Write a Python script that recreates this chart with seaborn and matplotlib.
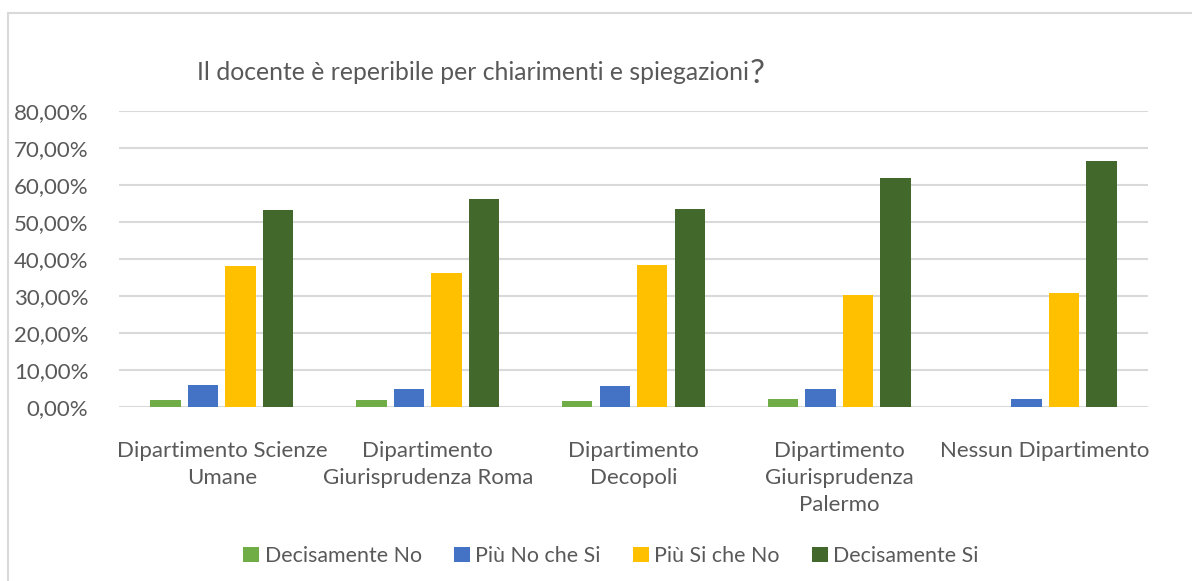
import matplotlib
matplotlib.use("Agg")
import matplotlib.pyplot as plt
from matplotlib.lines import Line2D
from matplotlib.ticker import FuncFormatter
import seaborn as sns
import pandas as pd

categories = ["Dipartimento Scienze\nUmane", "Dipartimento\nGiurisprudenza Roma",
              "Dipartimento\nDecopoli", "Dipartimento\nGiurisprudenza\nPalermo",
              "Nessun Dipartimento"]
series = ["Decisamente No", "Più No che Si", "Più Si che No", "Decisamente Si"]
decisamente_no = [0.020, 0.020, 0.017, 0.022, 0.0]
piu_no_che_si = [0.060, 0.050, 0.057, 0.050, 0.022]
piu_si_che_no = [0.382, 0.363, 0.385, 0.304, 0.309]
decisamente_si = [0.533, 0.563, 0.536, 0.620, 0.666]
colors = ["#70AD47", "#4472C4", "#FFC000", "#43682B"]
title = "Il docente è reperibile per chiarimenti e spiegazioni"

values = [decisamente_no, piu_no_che_si, piu_si_che_no, decisamente_si]
rows = []
for s, vals in zip(series, values):
    for c, v in zip(categories, vals):
        rows.append({"cat": c, "series": s, "val": v})
df = pd.DataFrame(rows)

sns.set_theme(style="white")
plt.rcParams["font.family"] = ["Lato", "DejaVu Sans"]
txt = "#595959"

fig = plt.figure(figsize=(11.92, 5.81), dpi=100)
ax = fig.add_axes([119/1192, 1 - 407.3/581, (1148-119)/1192, (407.3-111.3)/581])

sns.barplot(data=df, x="cat", y="val", hue="series", order=categories,
            hue_order=series, palette=colors, width=0.73, gap=0.19,
            saturation=1, linewidth=0, ax=ax, errorbar=None, legend=True)

ax.set_ylim(0, 0.8)
ax.set_xlim(-0.5, len(categories) - 0.5)
ax.set_yticks([i / 10 for i in range(9)])
ax.yaxis.set_major_formatter(FuncFormatter(lambda v, p: f"{v*100:.2f}%".replace(".", ",")))
ax.grid(axis="y", color="#D9D9D9", linewidth=1.5)
ax.set_axisbelow(True)
for sp in ax.spines.values():
    sp.set_visible(False)
ax.tick_params(axis="y", length=0, pad=22, labelsize=16, labelcolor=txt)
ax.tick_params(axis="x", length=0, pad=24, labelsize=16, labelcolor=txt)
for lab in ax.get_xticklabels():
    lab.set_linespacing(1.45)
ax.set_xlabel("")
ax.set_ylabel("")

handles, labels = ax.get_legend_handles_labels()
ax.get_legend().remove()
fig.legend(handles, labels, loc="center", bbox_to_anchor=(611/1192, 1 - 556/581),
           ncol=4, frameon=False, fontsize=15.4, labelcolor=txt,
           handlelength=0.75, handleheight=0.75, handletextpad=0.25,
           columnspacing=1.5)

t = fig.text(197/1192, 1 - 73/581, title, fontsize=17.8, color=txt,
             ha="left", va="center")
fig.canvas.draw()
bb = t.get_window_extent(fig.canvas.get_renderer())
fig.text(bb.x1 / 1192 + 0.001, 1 - 74/581, "?", fontsize=24, color=txt,
         ha="left", va="center")

fig.add_artist(Line2D([8/1192, 8/1192], [0, 1 - 13/581], transform=fig.transFigure,
                      color="#D9D9D9", linewidth=1.5))
fig.add_artist(Line2D([8/1192, 1], [1 - 13/581, 1 - 13/581], transform=fig.transFigure,
                      color="#D9D9D9", linewidth=1.5))

fig.savefig("out.png", dpi=100)
